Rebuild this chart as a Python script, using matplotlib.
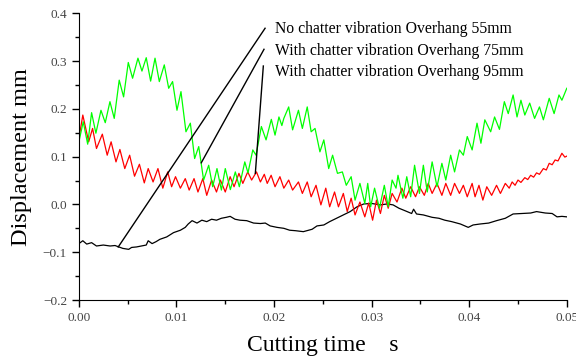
import matplotlib
matplotlib.use('Agg')
import matplotlib.pyplot as plt
from matplotlib.ticker import MultipleLocator

# ---------------- data ----------------
green_t = [0.0000, 0.00044, 0.0009, 0.0013, 0.00174, 0.00226, 0.0027, 0.00318, 0.00362, 0.00413,
           0.00458, 0.00506, 0.0055, 0.00605, 0.00646, 0.0069, 0.00735, 0.0078, 0.00824, 0.00875,
           0.0092, 0.0096, 0.01005, 0.01046, 0.01097, 0.01142, 0.01186, 0.01228, 0.01278, 0.0133,
           0.01371, 0.01415, 0.0146, 0.0150, 0.01552, 0.01603, 0.01644, 0.0170, 0.01733, 0.01782,
           0.01815, 0.0187, 0.01918, 0.01972, 0.0201, 0.0205, 0.0208, 0.0210, 0.0215, 0.0219,
           0.0225, 0.0229, 0.0234, 0.0238, 0.0242, 0.0247, 0.0251, 0.0256, 0.0260, 0.0265,
           0.0270, 0.0274, 0.0279, 0.0283, 0.0288, 0.0293, 0.0296, 0.0299, 0.0303, 0.0308,
           0.0313, 0.0317, 0.0321, 0.0325, 0.0327, 0.0332, 0.0336, 0.0340, 0.0344, 0.0349,
           0.0353, 0.0357, 0.0362, 0.0367, 0.0372, 0.0376, 0.0381, 0.0385, 0.0390, 0.0394,
           0.0398, 0.0403, 0.0408, 0.0412, 0.0416, 0.0422, 0.0426, 0.0431, 0.0436, 0.0440,
           0.0445, 0.0449, 0.0453, 0.0457, 0.0462, 0.0467, 0.0472, 0.0476, 0.0482, 0.0487,
           0.0492, 0.0495, 0.0500]
green_d = [0.131, 0.173, 0.126, 0.192, 0.149, 0.197, 0.171, 0.215, 0.180, 0.260,
           0.225, 0.297, 0.264, 0.306, 0.279, 0.307, 0.258, 0.306, 0.257, 0.292,
           0.243, 0.257, 0.197, 0.236, 0.152, 0.170, 0.096, 0.121, 0.051, 0.082,
           0.037, 0.075, 0.030, 0.075, 0.031, 0.068, 0.037, 0.089, 0.066, 0.114,
           0.103, 0.163, 0.135, 0.178, 0.145, 0.183, 0.165, 0.180, 0.204, 0.156,
           0.197, 0.159, 0.204, 0.152, 0.159, 0.110, 0.135, 0.075, 0.103, 0.065,
           0.068, 0.040, 0.058, 0.009, 0.044, 0.002, 0.044, -0.005, 0.034, -0.008,
           0.040, -0.005, 0.051, 0.034, 0.061, 0.013, 0.058, 0.016, 0.082, 0.023,
           0.082, 0.026, 0.089, 0.037, 0.086, 0.051, 0.103, 0.068, 0.114, 0.103,
           0.142, 0.114, 0.170, 0.128, 0.177, 0.152, 0.183, 0.157, 0.215, 0.190,
           0.229, 0.183, 0.218, 0.187, 0.212, 0.180, 0.204, 0.177, 0.222, 0.190,
           0.229, 0.218, 0.243]

red_t = [0.0000, 0.0004, 0.0010, 0.0014, 0.0018, 0.0024, 0.0029, 0.0033, 0.0038, 0.0042,
         0.0047, 0.0052, 0.0057, 0.0062, 0.0067, 0.0071, 0.0076, 0.0081, 0.0086, 0.0091,
         0.0095, 0.0099, 0.0104, 0.0109, 0.0113, 0.0118, 0.0122, 0.0127, 0.0131, 0.0136,
         0.0141, 0.0145, 0.0150, 0.0155, 0.0159, 0.0164, 0.0168, 0.0173, 0.0177, 0.0182,
         0.0186, 0.0190, 0.0193, 0.0197, 0.0201, 0.0206, 0.0210, 0.0215, 0.0219, 0.0225,
         0.0229, 0.0234, 0.0238, 0.0243, 0.0248, 0.0253, 0.0257, 0.0262, 0.0266, 0.0271,
         0.0275, 0.0279, 0.0283, 0.0288, 0.0293, 0.0297, 0.0301, 0.0305, 0.0309, 0.0313,
         0.0317, 0.0321, 0.0326, 0.0331, 0.0335, 0.0340, 0.0345, 0.0349, 0.0354, 0.0358,
         0.0362, 0.0367, 0.0372, 0.0376, 0.0381, 0.0385, 0.0390, 0.0394, 0.0398, 0.0403,
         0.0406, 0.0410, 0.0414, 0.0418, 0.0423, 0.0428, 0.0432, 0.0437, 0.0441, 0.0444,
         0.0447, 0.0450, 0.0453, 0.0457, 0.0460, 0.0463, 0.0466, 0.0469, 0.0472, 0.0476,
         0.0479, 0.0482, 0.0485, 0.0488, 0.0491, 0.0495, 0.0498, 0.0500]
red_d = [0.138, 0.187, 0.131, 0.159, 0.117, 0.147, 0.103, 0.131, 0.089, 0.115,
         0.075, 0.103, 0.059, 0.084, 0.045, 0.075, 0.047, 0.075, 0.034, 0.068,
         0.037, 0.058, 0.034, 0.054, 0.030, 0.054, 0.026, 0.054, 0.019, 0.051,
         0.026, 0.051, 0.026, 0.058, 0.037, 0.065, 0.044, 0.068, 0.051, 0.068,
         0.047, 0.063, 0.044, 0.061, 0.037, 0.058, 0.034, 0.051, 0.030, 0.047,
         0.023, 0.047, 0.016, 0.040, -0.001, 0.034, -0.005, 0.026, -0.005, 0.023,
         -0.015, 0.013, -0.022, 0.005, -0.026, 0.003, -0.033, 0.009, -0.019, 0.019,
         -0.008, 0.023, 0.005, 0.034, 0.013, 0.037, 0.016, 0.037, 0.019, 0.044,
         0.023, 0.044, 0.019, 0.044, 0.019, 0.044, 0.023, 0.040, 0.016, 0.044,
         0.016, 0.040, 0.009, 0.037, 0.019, 0.040, 0.023, 0.044, 0.034, 0.047,
         0.040, 0.051, 0.046, 0.056, 0.052, 0.061, 0.057, 0.066, 0.063, 0.075,
         0.072, 0.086, 0.083, 0.093, 0.091, 0.107, 0.099, 0.101]

black_t = [0.0000, 0.0004, 0.0008, 0.0013, 0.0018, 0.0025, 0.0032, 0.0037, 0.0041, 0.0045,
           0.0051, 0.0054, 0.0059, 0.0064, 0.0069, 0.0071, 0.0075, 0.0079, 0.0083, 0.0090,
           0.0097, 0.0104, 0.0109, 0.0112, 0.0116, 0.0121, 0.0126, 0.0131, 0.0136, 0.0141,
           0.0146, 0.0151, 0.0155, 0.0160, 0.0165, 0.0172, 0.0179, 0.0186, 0.0191, 0.0196,
           0.0203, 0.0210, 0.0216, 0.0222, 0.0230, 0.0239, 0.0244, 0.0251, 0.0257, 0.0264,
           0.0271, 0.0278, 0.0285, 0.0292, 0.0300, 0.0309, 0.0316, 0.0322, 0.0328, 0.0334,
           0.0341, 0.0343, 0.0346, 0.0353, 0.0362, 0.0369, 0.0375, 0.0382, 0.0391, 0.0399,
           0.0404, 0.0411, 0.0420, 0.0428, 0.0437, 0.0445, 0.0454, 0.0463, 0.0469, 0.0478,
           0.0485, 0.0490, 0.0495, 0.0500]
black_d = [-0.082, -0.076, -0.083, -0.080, -0.087, -0.085, -0.087, -0.086, -0.089, -0.092,
           -0.094, -0.090, -0.089, -0.087, -0.085, -0.076, -0.082, -0.078, -0.073, -0.068,
           -0.059, -0.054, -0.048, -0.041, -0.034, -0.039, -0.033, -0.036, -0.031, -0.033,
           -0.029, -0.027, -0.025, -0.031, -0.033, -0.034, -0.039, -0.040, -0.039, -0.045,
           -0.048, -0.050, -0.054, -0.055, -0.057, -0.052, -0.045, -0.043, -0.036, -0.029,
           -0.022, -0.015, -0.005, 0.001, 0.002, -0.001, 0.001, -0.001, -0.008, -0.013,
           -0.019, -0.010, -0.020, -0.022, -0.027, -0.029, -0.033, -0.036, -0.041, -0.048,
           -0.043, -0.041, -0.039, -0.034, -0.029, -0.020, -0.019, -0.018, -0.015, -0.018,
           -0.019, -0.026, -0.025, -0.026]

labels = ['No chatter vibration Overhang 55mm',
          'With chatter vibration Overhang 75mm',
          'With chatter vibration Overhang 95mm']
# (curve point, text anchor) for each leader line
label_tip = [(0.00403, -0.089), (0.01254, 0.0871), (0.01808, 0.0649)]
label_end = [(0.01908, 0.3686), (0.01897, 0.3246), (0.0189, 0.2896)]
label_y = [0.368, 0.3206, 0.2773]

# ---------------- plot ----------------
plt.rcParams['font.family'] = ['Liberation Serif', 'DejaVu Serif']

fig = plt.figure(figsize=(5.76, 3.58), dpi=100)
ax = fig.add_axes([0.137, 0.162, 0.847, 0.801])

ax.plot(black_t, black_d, '-', color='k', lw=0.9, solid_joinstyle='round')
ax.plot(red_t, red_d, '-', color='#ff0000', lw=0.9, solid_joinstyle='round')
ax.plot(green_t, green_d, '-', color='#00ff00', lw=0.9, solid_joinstyle='round')

for i in range(3):
    ax.plot([label_tip[i][0], label_end[i][0]], [label_tip[i][1], label_end[i][1]],
            '-', color='k', lw=1.0)
    ax.text(0.0201, label_y[i], labels[i], fontsize=11.3, va='center', ha='left', color='k')

ax.set_xlim(0, 0.05)
ax.set_ylim(-0.2, 0.4)
ax.xaxis.set_minor_locator(MultipleLocator(0.005))
ax.yaxis.set_minor_locator(MultipleLocator(0.05))
ax.set_xticks([0, 0.01, 0.02, 0.03, 0.04, 0.05])
ax.set_xticklabels(['0.00', '0.01', '0.02', '0.03', '0.04', '0.05'])
ax.set_yticks([-0.2, -0.1, 0.0, 0.1, 0.2, 0.3, 0.4])
ax.set_yticklabels(['\u22120.2', '\u22120.1', '0.0', '0.1', '0.2', '0.3', '0.4'])

ax.spines['top'].set_visible(False)
ax.spines['right'].set_visible(False)
ax.tick_params(which='major', direction='out', length=5, width=1, labelsize=9.5,
               labelcolor='#444444')
ax.tick_params(which='minor', direction='out', length=3, width=1)

ax.set_xlabel('Cutting time    s', fontsize=17, labelpad=8)
ax.set_ylabel('Displacement mm', fontsize=17.5, labelpad=8)

fig.savefig('out.png', dpi=100)
